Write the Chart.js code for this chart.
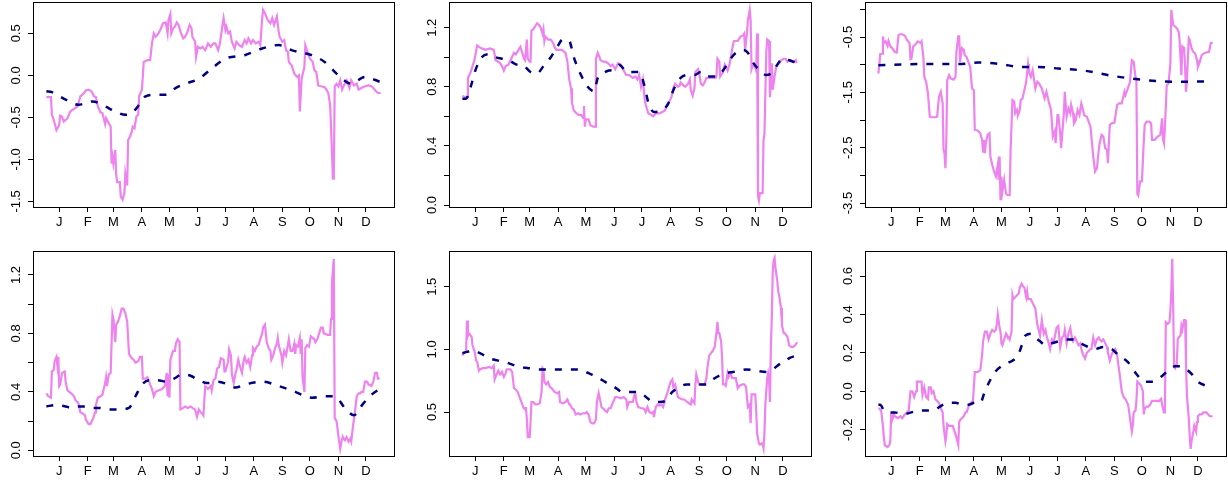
<!DOCTYPE html>
<html>
<head>
<meta charset="utf-8">
<script src="https://cdn.jsdelivr.net/npm/chart.js@4.4.1/dist/chart.umd.min.js"></script>
<style>
    html, body { margin: 0; padding: 0; background: #fff; overflow: hidden; }
    #page { position: relative; width: 1228px; height: 483px; }
    #page canvas { position: absolute; }
</style>
</head>
<body>
<div id="page"></div>
<script>
// Shared x axis: day of year, labels at mid-month
const monthDays = [15, 46, 74, 105, 135, 166, 196, 227, 258, 288, 319, 349];
const monthLabels = ['J', 'F', 'M', 'A', 'M', 'J', 'J', 'A', 'S', 'O', 'N', 'D'];
const dayRange = [-13.56, 379.56];

// Panel 1 (top left)
const p1Days = [1,6,7,9,12,15,16,18,20,24,27,31,35,38,42,44,47,50,53,55,57,60,62,65,66,69,71,72,73,74,76,77,78,81,82,84,86,87,89,90,92,94,95,97,99,101,102,105,106,107,111,114,116,118,120,123,125,128,131,133,134,136,137,139,141,143,145,147,150,152,154,157,159,160,163,164,166,169,171,174,177,180,183,185,188,190,192,194,196,197,199,201,203,206,208,211,214,217,219,221,224,226,229,232,234,236,237,239,242,245,247,249,252,254,255,258,260,262,264,265,268,271,274,276,277,279,282,283,286,288,291,293,295,297,300,304,306,308,310,312,313,314,315,317,319,321,323,325,328,331,333,336,339,341,344,348,352,355,357,360,362,365];
const p1Values = [-0.26,-0.26,-0.47,-0.53,-0.65,-0.59,-0.48,-0.49,-0.55,-0.51,-0.43,-0.40,-0.37,-0.25,-0.21,-0.18,-0.17,-0.19,-0.25,-0.26,-0.37,-0.44,-0.45,-0.58,-0.51,-0.57,-0.61,-1.05,-0.97,-1.05,-0.89,-1.17,-1.27,-1.27,-1.44,-1.48,-1.40,-1.17,-1.31,-0.77,-0.73,-0.67,-0.61,-0.63,-0.49,-0.47,-0.25,-0.17,-0.02,0.16,0.18,0.18,0.38,0.50,0.46,0.50,0.54,0.62,0.63,0.50,0.66,0.73,0.50,0.56,0.58,0.63,0.60,0.52,0.44,0.46,0.50,0.60,0.56,0.46,0.40,0.22,0.34,0.32,0.34,0.30,0.38,0.34,0.38,0.38,0.30,0.38,0.54,0.68,0.54,0.58,0.50,0.52,0.40,0.32,0.40,0.36,0.34,0.42,0.38,0.44,0.38,0.42,0.38,0.40,0.36,0.68,0.78,0.74,0.66,0.62,0.68,0.60,0.70,0.52,0.46,0.40,0.42,0.30,0.28,0.16,0.12,0.02,-0.02,0.00,-0.43,-0.04,0.10,0.36,0.26,0.20,0.16,0.06,0.04,-0.12,-0.13,-0.14,-0.17,-0.21,-0.35,-0.90,-1.23,-1.23,-0.13,-0.10,-0.13,-0.06,-0.17,-0.12,-0.06,-0.15,-0.06,-0.12,-0.10,-0.17,-0.15,-0.13,-0.12,-0.13,-0.15,-0.19,-0.21,-0.21];
const p1SmoothDays = [1,7,22,36,51,65,76,87,94,102,109,120,131,142,152,167,181,196,217,236,254,268,290,304,319,333,348,365];
const p1Smooth = [-0.19,-0.20,-0.29,-0.35,-0.31,-0.37,-0.43,-0.47,-0.45,-0.35,-0.25,-0.23,-0.23,-0.15,-0.10,-0.04,0.08,0.20,0.24,0.32,0.36,0.30,0.24,0.16,0.00,-0.10,-0.02,-0.08];
const p1YRange = [-1.567, 0.873];
const p1YTicks = [-1.5, -1.0, -0.5, 0.0, 0.5];
const p1YLabels = [-1.5, -1.0, -0.5, 0.0, 0.5];

// Panel 2 (top middle)
const p2Days = [1,4,6,7,10,12,14,17,19,22,26,31,35,36,37,40,42,44,46,48,51,54,57,59,62,64,66,68,69,71,72,74,75,76,78,80,82,84,86,88,89,90,91,94,97,98,100,101,103,106,109,111,113,115,116,117,119,120,122,125,127,130,132,133,134,135,138,140,143,145,146,148,150,151,154,156,159,162,164,167,170,173,177,179,182,186,189,191,193,195,197,199,200,203,206,208,211,215,218,221,223,225,228,230,232,235,237,238,241,243,246,248,249,251,253,254,257,258,260,262,264,266,269,273,276,277,278,280,281,284,286,287,289,291,293,295,296,300,303,306,307,308,310,311,313,314,315,316,318,320,321,322,323,324,327,328,329,331,332,334,335,337,338,340,342,345,347,350,352,354,357,360,363,364];
const p2Values = [0.74,0.73,0.73,0.86,0.90,0.94,0.98,1.08,1.07,1.06,1.05,1.06,1.05,1.02,0.98,0.97,0.96,0.94,0.91,0.94,0.95,0.99,1.03,1.02,1.05,1.07,1.03,0.99,0.98,1.12,0.99,0.97,0.97,1.18,1.19,1.21,1.23,1.22,1.20,1.16,1.19,1.11,1.14,1.12,1.12,1.11,1.09,1.07,1.05,1.05,1.05,1.04,1.03,0.97,0.91,0.85,0.79,0.69,0.64,0.62,0.61,0.61,0.59,0.67,0.53,0.58,0.58,0.54,0.53,0.53,0.99,1.03,1.00,0.98,0.97,0.97,0.96,0.94,0.95,0.92,0.96,0.95,0.90,0.88,0.88,0.86,0.87,0.85,0.88,0.80,0.85,0.71,0.68,0.62,0.61,0.60,0.62,0.62,0.63,0.64,0.68,0.69,0.73,0.79,0.82,0.80,0.81,0.83,0.81,0.80,0.82,0.85,0.78,0.74,0.79,0.90,0.92,0.90,0.82,0.81,0.83,0.86,0.86,0.86,0.86,0.88,0.99,0.97,0.87,0.90,0.95,0.94,0.91,0.95,1.02,1.09,1.11,1.11,1.14,1.15,1.16,1.05,1.16,1.25,1.32,1.25,0.92,0.94,0.95,0.91,1.16,0.06,0.03,0.08,0.08,0.44,0.48,1.03,1.12,1.11,0.73,0.96,0.78,0.87,0.94,0.96,0.98,0.99,0.99,0.97,0.98,0.97,0.98,0.96];
const p2SmoothDays = [1,5,10,15,22,30,37,44,51,60,68,75,82,89,97,104,110,117,122,129,137,144,148,153,160,167,171,180,193,199,203,209,217,224,231,238,246,253,260,267,277,284,291,298,306,311,316,324,331,338,344,349,356,364];
const p2Smooth = [0.72,0.72,0.80,0.91,1.00,1.02,1.00,0.99,0.98,0.95,0.94,0.90,0.89,0.94,1.00,1.07,1.12,1.11,1.00,0.89,0.80,0.77,0.86,0.89,0.91,0.92,0.95,0.90,0.90,0.80,0.69,0.63,0.64,0.68,0.79,0.86,0.88,0.88,0.90,0.87,0.87,0.91,0.98,1.03,1.05,1.03,0.97,0.91,0.88,0.90,0.96,0.99,0.98,0.96];
const p2YRange = [-0.0135, 1.374];
const p2YTicks = [0.0, 0.2, 0.4, 0.6, 0.8, 1.0, 1.2];
const p2YLabels = [0.0, 0.4, 0.8, 1.2];

// Panel 3 (top right)
const p3Days = [1,2,3,5,6,7,9,11,12,14,16,19,21,23,25,27,30,32,35,36,37,39,41,44,47,48,50,51,53,55,57,59,63,65,67,69,71,72,73,74,75,76,78,80,83,85,86,88,89,90,92,94,95,97,99,101,103,105,106,109,112,114,115,116,117,118,120,122,123,125,127,129,131,132,133,134,135,136,138,140,142,144,145,147,149,150,152,153,155,156,158,160,162,164,165,167,169,172,174,176,179,182,184,187,189,191,193,194,196,197,199,200,201,203,204,206,208,210,211,213,214,216,218,220,222,223,225,228,230,232,233,235,237,239,241,242,244,246,248,250,251,253,255,258,261,263,266,269,270,272,275,277,279,281,282,283,284,286,288,290,291,293,296,298,299,302,305,308,310,311,312,313,315,317,319,320,322,324,326,328,329,331,332,334,335,336,337,339,340,342,344,346,348,349,351,353,355,358,361,363,365];
const p3Values = [-1.16,-1.01,-0.81,-0.80,-0.49,-0.61,-0.58,-0.66,-0.57,-0.67,-0.70,-0.77,-0.78,-0.46,-0.45,-0.45,-0.48,-0.55,-0.61,-0.90,-0.89,-0.67,-0.64,-0.58,-0.61,-0.58,-0.86,-1.22,-1.31,-1.52,-1.94,-1.95,-1.95,-1.94,-1.58,-1.49,-1.70,-2.54,-2.60,-2.87,-2.36,-1.28,-1.19,-1.25,-1.27,-1.22,-0.77,-0.49,-0.49,-0.95,-0.70,-0.73,-0.83,-0.86,-0.95,-1.04,-1.43,-1.46,-2.18,-2.19,-2.24,-2.36,-2.57,-2.36,-2.60,-2.42,-2.27,-2.24,-2.66,-2.81,-2.93,-3.02,-2.81,-3.08,-2.66,-3.45,-3.02,-3.30,-3.08,-3.33,-3.36,-3.36,-2.54,-1.64,-1.67,-1.88,-1.82,-1.91,-1.82,-1.64,-1.61,-1.46,-1.31,-0.99,-1.13,-1.22,-1.10,-1.43,-1.31,-1.34,-1.43,-1.61,-1.49,-1.70,-1.82,-2.30,-2.21,-2.42,-1.91,-1.91,-2.24,-2.51,-2.30,-1.88,-1.49,-1.94,-1.79,-1.88,-1.73,-1.88,-2.06,-2.00,-1.82,-1.91,-1.70,-1.76,-1.91,-1.94,-2.03,-2.12,-2.30,-2.66,-2.93,-2.87,-2.54,-2.42,-2.27,-2.30,-2.51,-2.54,-2.78,-2.09,-2.06,-2.05,-1.73,-1.70,-1.70,-1.49,-1.55,-1.46,-1.31,-0.92,-0.95,-1.22,-1.28,-3.33,-3.36,-3.11,-3.11,-2.39,-2.09,-2.03,-2.03,-2.06,-2.36,-2.36,-2.30,-2.27,-1.97,-2.36,-2.42,-2.15,-1.37,-1.34,-0.98,-0.01,-0.28,-0.31,-0.34,-0.40,-0.55,-1.19,-0.67,-0.70,-1.04,-1.49,-1.31,-0.52,-0.55,-0.70,-0.77,-0.80,-0.92,-1.04,-0.95,-0.83,-0.80,-0.78,-0.77,-0.61,-0.60];
const p3SmoothDays = [1,45,88,110,135,154,175,197,226,255,281,306,328,365];
const p3Smooth = [-1.01,-0.99,-0.99,-0.96,-0.99,-1.04,-1.04,-1.07,-1.11,-1.20,-1.26,-1.30,-1.31,-1.30];
const p3YRange = [-3.572, 0.1325];
const p3YTicks = [-3.5, -3.0, -2.5, -2.0, -1.5, -1.0, -0.5, 0.0];
const p3YLabels = [-3.5, -2.5, -1.5, -0.5];

// Panel 4 (bottom left)
const p4Days = [1,3,6,7,9,10,12,13,14,15,16,18,21,22,24,26,28,31,33,35,36,38,41,43,44,47,49,52,54,55,57,60,62,65,66,67,69,71,73,74,76,77,79,81,83,85,87,89,91,94,96,98,101,103,105,106,109,111,113,114,116,118,120,123,127,130,132,133,134,135,136,137,139,141,142,144,146,147,150,152,155,158,160,163,165,167,169,171,172,174,177,180,181,183,185,187,189,191,194,195,196,199,200,202,203,205,207,208,210,212,214,216,217,219,221,223,225,226,228,230,232,234,236,237,239,241,243,245,246,248,250,252,253,254,257,258,260,262,264,265,267,269,271,272,273,275,277,278,279,280,282,283,285,287,289,291,293,294,296,298,300,302,303,304,307,310,311,312,314,315,317,319,321,323,324,326,328,330,332,333,335,337,339,341,343,344,346,348,350,352,353,355,357,359,361,362,364];
const p4Values = [0.39,0.37,0.36,0.54,0.55,0.61,0.64,0.58,0.64,0.44,0.45,0.53,0.54,0.47,0.41,0.40,0.39,0.37,0.34,0.33,0.32,0.26,0.25,0.24,0.21,0.18,0.18,0.22,0.26,0.31,0.36,0.37,0.38,0.46,0.50,0.44,0.52,0.53,0.93,0.90,0.74,0.86,0.88,0.92,0.97,0.97,0.94,0.88,0.66,0.63,0.62,0.60,0.61,0.64,0.64,0.49,0.49,0.50,0.47,0.45,0.42,0.37,0.40,0.41,0.42,0.44,0.53,0.37,0.52,0.36,0.62,0.64,0.68,0.68,0.73,0.76,0.74,0.28,0.29,0.30,0.29,0.30,0.29,0.28,0.23,0.28,0.26,0.25,0.24,0.44,0.42,0.44,0.41,0.48,0.49,0.56,0.57,0.63,0.62,0.54,0.54,0.61,0.69,0.65,0.52,0.46,0.53,0.55,0.62,0.57,0.53,0.62,0.64,0.60,0.62,0.57,0.65,0.70,0.68,0.71,0.72,0.76,0.80,0.84,0.86,0.74,0.70,0.68,0.62,0.65,0.70,0.73,0.77,0.72,0.65,0.60,0.68,0.65,0.72,0.76,0.68,0.68,0.73,0.66,0.72,0.71,0.77,0.66,0.76,0.50,0.40,0.70,0.72,0.71,0.78,0.77,0.76,0.74,0.76,0.80,0.84,0.84,0.80,0.80,0.79,0.79,0.90,1.15,1.31,0.22,0.20,0.10,0.01,0.08,0.09,0.07,0.09,0.06,0.08,0.06,0.17,0.26,0.37,0.39,0.39,0.40,0.40,0.47,0.47,0.45,0.45,0.44,0.47,0.53,0.53,0.49,0.49];
const p4SmoothDays = [1,11,22,29,36,44,51,58,69,80,91,98,105,113,122,131,140,149,158,167,176,188,199,207,217,236,254,272,290,304,315,326,336,346,355,364];
const p4Smooth = [0.30,0.31,0.30,0.29,0.30,0.30,0.29,0.29,0.28,0.28,0.29,0.37,0.45,0.48,0.48,0.47,0.49,0.52,0.51,0.48,0.46,0.47,0.45,0.43,0.45,0.47,0.44,0.40,0.36,0.37,0.37,0.29,0.24,0.32,0.38,0.42];
const p4YRange = [-0.0388, 1.364];
const p4YTicks = [0.0, 0.2, 0.4, 0.6, 0.8, 1.0, 1.2];
const p4YLabels = [0.0, 0.4, 0.8, 1.2];

// Panel 5 (bottom middle)
const p5Days = [1,2,5,6,7,8,11,12,14,16,17,19,20,23,26,30,33,35,36,37,40,42,44,46,48,49,53,55,57,59,61,64,67,69,70,71,72,74,75,76,78,80,82,85,87,88,89,90,92,94,96,98,101,104,106,107,110,113,115,117,118,120,122,124,127,129,132,135,136,138,140,142,144,146,147,149,151,152,155,156,158,160,162,164,166,167,169,173,176,179,180,182,184,186,188,189,190,192,195,197,199,200,202,204,206,208,209,211,213,215,217,219,221,223,225,227,229,230,232,235,237,240,242,245,247,249,250,252,253,254,255,257,258,259,261,264,266,267,269,271,273,275,277,278,279,280,282,283,284,286,287,289,290,292,294,296,298,300,302,305,307,309,311,313,314,315,317,319,320,321,323,324,326,327,328,329,330,332,333,334,335,336,337,338,339,340,341,343,344,345,347,348,350,351,353,354,356,358,360,362,364,365];
const p5Values = [0.95,0.97,0.98,1.23,1.11,1.13,1.10,1.03,0.99,0.91,0.90,0.83,0.84,0.85,0.85,0.86,0.85,0.87,0.76,0.78,0.83,0.80,0.82,0.78,0.81,0.84,0.84,0.82,0.69,0.68,0.66,0.60,0.54,0.52,0.54,0.44,0.30,0.30,0.42,0.58,0.58,0.56,0.56,0.57,0.66,0.85,0.84,0.74,0.72,0.74,0.70,0.69,0.66,0.65,0.66,0.58,0.57,0.58,0.60,0.56,0.56,0.53,0.52,0.48,0.49,0.48,0.49,0.49,0.50,0.48,0.42,0.41,0.41,0.44,0.58,0.65,0.58,0.54,0.52,0.51,0.50,0.53,0.53,0.57,0.60,0.62,0.62,0.61,0.62,0.60,0.54,0.58,0.58,0.58,0.64,0.64,0.58,0.54,0.53,0.53,0.52,0.50,0.54,0.50,0.49,0.50,0.46,0.54,0.56,0.55,0.56,0.54,0.60,0.64,0.69,0.74,0.76,0.70,0.72,0.62,0.61,0.60,0.60,0.58,0.57,0.56,0.60,0.58,0.57,0.72,0.80,0.74,0.72,0.72,0.72,0.72,0.77,0.85,0.95,0.97,0.99,1.02,1.14,1.22,1.13,1.13,1.06,0.93,0.72,0.72,0.71,0.81,0.78,0.81,0.77,0.77,0.77,0.69,0.71,0.72,0.72,0.70,0.54,0.56,0.41,0.64,0.64,0.64,0.52,0.33,0.25,0.24,0.25,0.24,0.21,0.34,0.56,0.77,0.81,0.76,0.58,1.03,1.25,1.62,1.71,1.73,1.65,1.54,1.46,1.43,1.33,1.19,1.13,1.13,1.11,1.10,1.03,1.02,1.02,1.03,1.05,1.05];
const p5SmoothDays = [1,6,13,20,30,40,51,62,73,84,95,106,117,128,138,147,156,166,175,182,191,197,202,208,215,222,229,237,244,251,258,266,273,280,287,295,302,309,320,331,338,345,351,356,364];
const p5Smooth = [0.97,0.98,0.99,0.97,0.93,0.91,0.89,0.86,0.85,0.84,0.84,0.84,0.84,0.84,0.81,0.78,0.74,0.70,0.66,0.66,0.66,0.64,0.61,0.58,0.58,0.59,0.66,0.70,0.72,0.72,0.72,0.72,0.76,0.79,0.81,0.82,0.83,0.84,0.83,0.82,0.84,0.88,0.90,0.93,0.95];
const p5YRange = [0.149, 1.785];
const p5YTicks = [0.5, 1.0, 1.5];
const p5YLabels = [0.5, 1.0, 1.5];

// Panel 6 (bottom right)
const p6Days = [1,2,4,6,7,8,11,13,14,15,16,18,19,22,25,27,30,32,34,35,36,38,40,42,43,45,47,48,49,51,53,55,56,58,59,61,63,65,67,69,71,72,74,75,76,78,80,82,84,86,88,89,90,92,94,96,97,100,102,104,105,106,109,112,114,115,117,119,121,123,125,127,129,130,131,133,134,135,136,138,140,141,143,144,146,147,148,150,152,154,155,157,158,160,162,163,164,167,169,172,174,175,177,179,181,183,184,186,188,190,192,193,195,197,199,201,203,204,206,208,210,212,213,215,217,219,221,222,224,226,228,230,232,233,235,237,239,241,242,244,246,248,250,251,253,255,257,259,261,262,264,266,268,270,271,273,275,277,278,279,281,282,283,285,287,289,290,291,293,295,297,299,300,302,304,307,309,310,312,313,314,316,318,319,320,321,322,323,324,326,327,328,330,331,332,334,335,336,337,339,340,341,342,344,345,347,348,349,351,353,355,357,358,360,362,363,365];
const p6Values = [-0.09,-0.09,-0.10,-0.18,-0.24,-0.28,-0.29,-0.28,-0.26,-0.11,-0.15,-0.12,-0.13,-0.14,-0.13,-0.14,-0.12,-0.11,-0.10,-0.05,0.00,0.00,-0.03,0.00,0.05,0.05,0.05,0.05,-0.02,0.02,-0.03,-0.04,0.02,0.02,-0.01,0.00,-0.04,-0.05,-0.06,-0.09,-0.11,-0.18,-0.26,-0.23,-0.17,-0.18,-0.18,-0.18,-0.21,-0.24,-0.28,-0.16,-0.15,-0.14,-0.13,-0.11,-0.11,-0.07,-0.06,-0.05,0.02,0.10,0.10,0.11,0.19,0.26,0.31,0.31,0.27,0.30,0.32,0.31,0.32,0.35,0.40,0.33,0.31,0.25,0.24,0.27,0.30,0.29,0.28,0.27,0.31,0.50,0.48,0.49,0.50,0.51,0.54,0.56,0.55,0.54,0.49,0.52,0.48,0.48,0.46,0.43,0.35,0.33,0.29,0.37,0.30,0.32,0.29,0.26,0.22,0.27,0.26,0.28,0.33,0.34,0.23,0.28,0.29,0.32,0.25,0.30,0.33,0.27,0.26,0.28,0.26,0.24,0.25,0.22,0.19,0.17,0.20,0.21,0.22,0.22,0.28,0.24,0.27,0.28,0.27,0.26,0.27,0.25,0.23,0.20,0.16,0.19,0.21,0.22,0.19,0.15,0.08,0.00,-0.03,-0.04,-0.05,-0.07,-0.14,-0.21,-0.18,-0.11,-0.10,-0.05,0.05,0.04,0.03,0.00,-0.12,-0.09,-0.08,-0.08,-0.07,-0.05,-0.05,-0.05,-0.05,-0.05,-0.04,-0.07,-0.11,-0.11,0.36,0.35,0.36,0.42,0.52,0.69,0.45,0.14,0.13,0.14,0.27,0.28,0.29,0.34,0.32,0.37,0.37,0.15,-0.02,-0.14,-0.23,-0.30,-0.26,-0.21,-0.18,-0.21,-0.16,-0.13,-0.12,-0.12,-0.11,-0.11,-0.11,-0.12,-0.13,-0.13,-0.13];
const p6SmoothDays = [1,3,7,12,19,28,37,45,52,61,68,76,85,92,99,106,112,117,123,128,135,143,150,155,161,168,172,177,183,190,197,204,213,221,230,237,246,255,262,273,282,291,299,310,317,324,329,335,342,349,357,364];
const p6Smooth = [-0.07,-0.07,-0.10,-0.11,-0.11,-0.12,-0.11,-0.10,-0.10,-0.10,-0.08,-0.06,-0.06,-0.07,-0.07,-0.06,-0.06,0.00,0.06,0.10,0.13,0.15,0.17,0.21,0.29,0.30,0.28,0.26,0.24,0.25,0.26,0.27,0.27,0.25,0.23,0.22,0.23,0.22,0.19,0.15,0.09,0.05,0.05,0.08,0.11,0.13,0.13,0.12,0.09,0.05,0.03,0.02];
const p6YRange = [-0.337, 0.7302];
const p6YTicks = [-0.2, 0.0, 0.2, 0.4, 0.6];
const p6YLabels = [-0.2, 0.0, 0.2, 0.4, 0.6];

const FONT = '"Liberation Sans", Arial, Helvetica, sans-serif';
const FONT_SIZE = 13;
const Y_AXIS_W = 33;
const X_AXIS_H = 26;
const PAD_T = 2;
const PAD_R = 2;

// frame around plot region + y labels turned like base R
const framePlugin = {
    id: 'frame',
    afterDraw(chart, args, opts) {
        const { ctx, chartArea: a, scales: { y } } = chart;
        ctx.save();
        ctx.strokeStyle = '#000';
        ctx.lineWidth = 1;
        ctx.strokeRect(Math.round(a.left) + 0.5, Math.round(a.top) + 0.5,
            Math.round(a.right - a.left), Math.round(a.bottom - a.top));
        ctx.fillStyle = '#000';
        ctx.font = FONT_SIZE + 'px ' + FONT;
        ctx.textAlign = 'center';
        ctx.textBaseline = 'middle';
        opts.labels.forEach(v => {
            ctx.save();
            ctx.translate(a.left - 16.5, y.getPixelForValue(v));
            ctx.rotate(-Math.PI / 2);
            ctx.fillText(v.toFixed(1), 0, 0);
            ctx.restore();
        });
        ctx.restore();
    }
};

const toXY = (xs, ys) => xs.map((d, i) => ({ x: d, y: ys[i] }));

const panels = [
    { box: [33, 2, 394, 207], days: p1Days, vals: p1Values, sDays: p1SmoothDays, sVals: p1Smooth, yr: p1YRange, yt: p1YTicks, yl: p1YLabels },
    { box: [449, 2, 811, 207], days: p2Days, vals: p2Values, sDays: p2SmoothDays, sVals: p2Smooth, yr: p2YRange, yt: p2YTicks, yl: p2YLabels },
    { box: [865, 2, 1226, 207], days: p3Days, vals: p3Values, sDays: p3SmoothDays, sVals: p3Smooth, yr: p3YRange, yt: p3YTicks, yl: p3YLabels },
    { box: [33, 251, 394, 456], days: p4Days, vals: p4Values, sDays: p4SmoothDays, sVals: p4Smooth, yr: p4YRange, yt: p4YTicks, yl: p4YLabels },
    { box: [449, 251, 811, 456], days: p5Days, vals: p5Values, sDays: p5SmoothDays, sVals: p5Smooth, yr: p5YRange, yt: p5YTicks, yl: p5YLabels },
    { box: [865, 251, 1226, 456], days: p6Days, vals: p6Values, sDays: p6SmoothDays, sVals: p6Smooth, yr: p6YRange, yt: p6YTicks, yl: p6YLabels }
];

const page = document.getElementById('page');

panels.forEach(p => {
    const [l, t, r, b] = p.box;
    const w = (r - l) + Y_AXIS_W + PAD_R;
    const h = (b - t) + PAD_T + X_AXIS_H;
    const canvas = document.createElement('canvas');
    canvas.width = w;
    canvas.height = h;
    canvas.style.left = (l - Y_AXIS_W) + 'px';
    canvas.style.top = (t - PAD_T) + 'px';
    canvas.style.width = w + 'px';
    canvas.style.height = h + 'px';
    page.appendChild(canvas);

    new Chart(canvas, {
        type: 'line',
        data: {
            datasets: [
                {
                    data: toXY(p.sDays, p.sVals),
                    borderColor: '#000080',
                    borderWidth: 2.5,
                    borderDash: [7, 9],
                    pointRadius: 0,
                    cubicInterpolationMode: 'monotone',
                    fill: false
                },
                {
                    data: toXY(p.days, p.vals),
                    borderColor: '#EE82EE',
                    borderWidth: 2.2,
                    pointRadius: 0,
                    tension: 0,
                    fill: false
                }
            ]
        },
        options: {
            responsive: false,
            animation: false,
            devicePixelRatio: 1,
            events: [],
            layout: { padding: { top: PAD_T, right: PAD_R, left: 0, bottom: 0 } },
            plugins: {
                legend: { display: false },
                tooltip: { enabled: false },
                frame: { labels: p.yl }
            },
            scales: {
                x: {
                    type: 'linear',
                    min: dayRange[0],
                    max: dayRange[1],
                    afterBuildTicks: s => { s.ticks = monthDays.map(v => ({ value: v })); },
                    afterFit: s => { s.height = X_AXIS_H; },
                    grid: { drawOnChartArea: false, drawTicks: true, tickLength: 5, color: '#000', lineWidth: 1 },
                    border: { display: false },
                    ticks: {
                        autoSkip: false, maxRotation: 0, padding: 3, color: '#000',
                        font: { family: FONT, size: FONT_SIZE },
                        callback: (v, i) => monthLabels[i]
                    }
                },
                y: {
                    type: 'linear',
                    min: p.yr[0],
                    max: p.yr[1],
                    afterBuildTicks: s => { s.ticks = p.yt.map(v => ({ value: v })); },
                    afterFit: s => { s.width = Y_AXIS_W; },
                    grid: { drawOnChartArea: false, drawTicks: true, tickLength: 5, color: '#000', lineWidth: 1 },
                    border: { display: false },
                    ticks: { display: false }
                }
            }
        },
        plugins: [framePlugin]
    });
});
</script>
</body>
</html>
